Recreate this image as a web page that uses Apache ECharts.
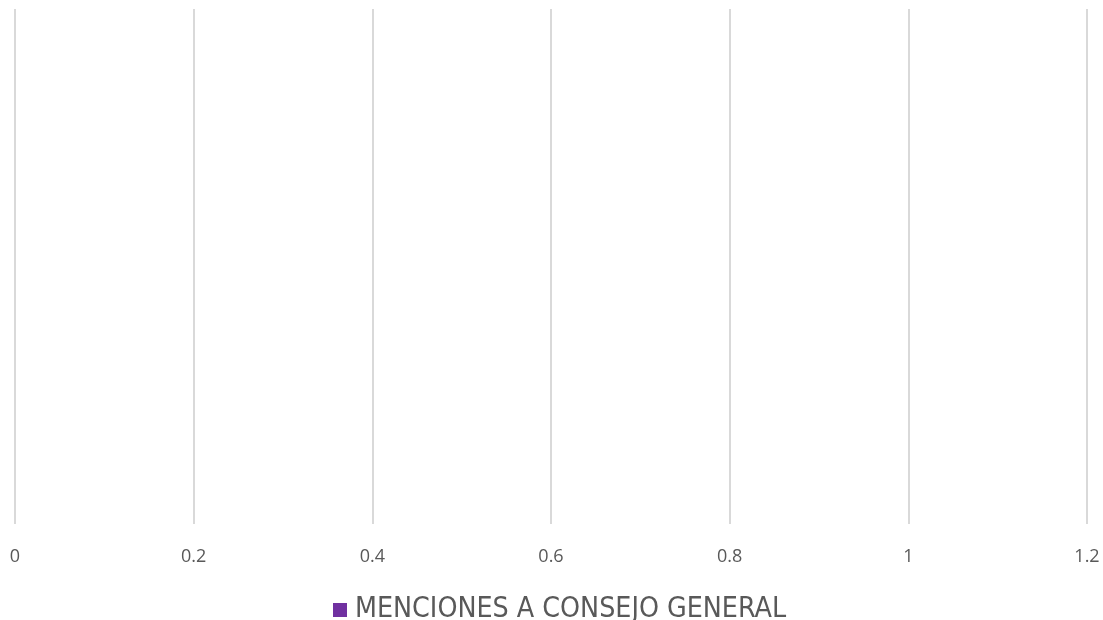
<!DOCTYPE html>
<html>
<head>
<meta charset="utf-8">
<script src="https://cdn.jsdelivr.net/npm/echarts@6/dist/echarts.min.js"></script>
<style>html,body{margin:0;padding:0;background:#fff}#c{width:1103px;height:620px}</style>
</head>
<body>
<div id="c"></div>
<script>
const categories = [''];
const seriesName = 'MENCIONES A CONSEJO GENERAL';
const values = [null];
const xTicks = { min: 0, max: 1.2, interval: 0.2 };

const chart = echarts.init(document.getElementById('c'), null, { renderer: 'canvas' });
chart.setOption({
  animation: false,
  grid: { left: 15, right: 16, top: 9, bottom: 96, containLabel: false },
  xAxis: {
    type: 'value', min: xTicks.min, max: xTicks.max, interval: xTicks.interval,
    axisLine: { show: false }, axisTick: { show: false },
    splitLine: { lineStyle: { color: '#d9d9d9', width: 2 } },
    axisLabel: { color: '#595959', fontSize: 18, fontFamily: 'Open Sans', margin: 24,
      formatter: v => String(Math.round(v * 10) / 10) }
  },
  yAxis: {
    type: 'category', data: categories,
    axisLine: { show: false }, axisTick: { show: false }, axisLabel: { show: false }
  },
  legend: {
    top: 591, left: 328, itemWidth: 14, itemHeight: 14, itemGap: 10,
    icon: 'rect',
    textStyle: { color: '#595959', fontSize: 28.3, fontFamily: 'DejaVu Sans Condensed', padding: [0, 0, 0, 3] },
    data: [seriesName]
  },
  series: [{ name: seriesName, type: 'bar', data: values, itemStyle: { color: '#7030A0' } }]
});
</script>
</body>
</html>
